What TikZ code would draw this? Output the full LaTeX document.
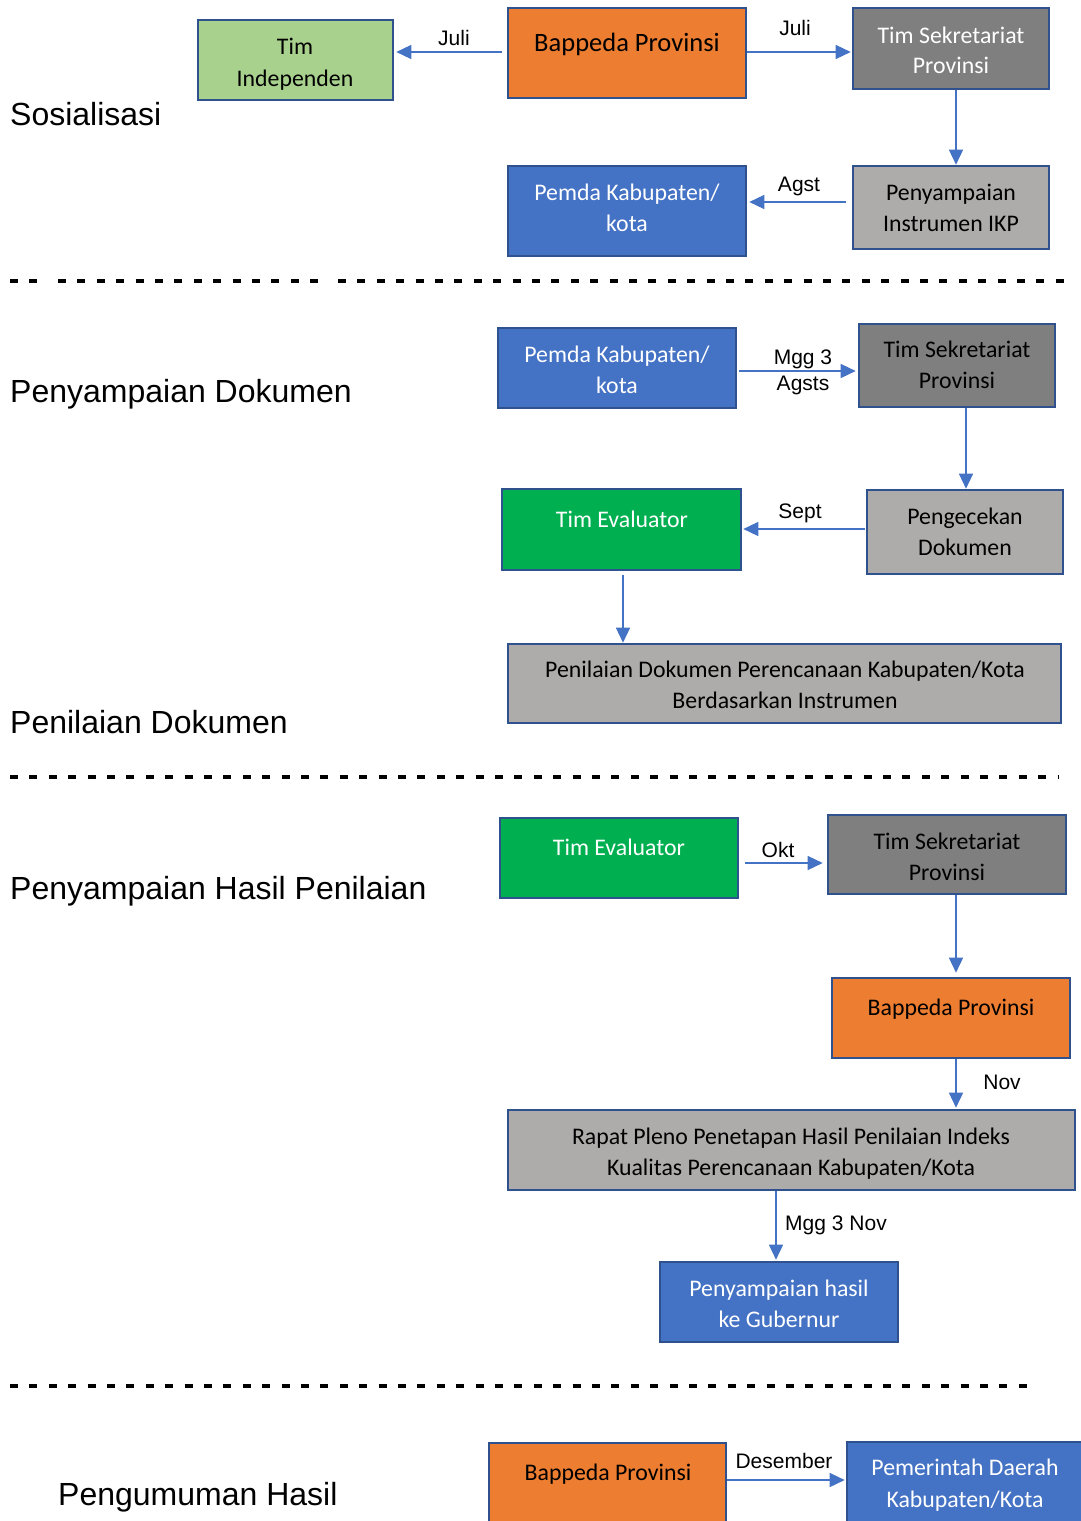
\documentclass[tikz,border=0pt]{standalone}
\usepackage{fontspec}
\newfontfamily\boxfont{Carlito}
\newfontfamily\labfont{Liberation Sans}
\usetikzlibrary{arrows.meta,fit}
\definecolor{cOrange}{HTML}{ED7D31}
\definecolor{cBlue}{HTML}{4472C4}
\definecolor{cBorder}{HTML}{2F528F}
\definecolor{cLGreen}{HTML}{A9D18E}
\definecolor{cGreen}{HTML}{00B050}
\definecolor{cDGray}{HTML}{7F7F7F}
\definecolor{cLGray}{HTML}{AEABAB}
\definecolor{cArrow}{HTML}{4472C4}
\tikzset{
  box/.style={draw=cBorder, line width=2.6pt, inner sep=0pt, rectangle},
  bt/.style={font=\boxfont\fontsize{23.8}{31}\selectfont, anchor=base, inner sep=0pt},
  lab/.style={font=\labfont\fontsize{21}{25}\selectfont, anchor=base, inner sep=0pt},
  sec/.style={font=\labfont\fontsize{32}{38}\selectfont, anchor=base west, inner sep=0pt},
  arr/.style={draw=cArrow, line width=1.4pt, -{Triangle[length=15pt,width=14pt]}},
  sepline/.style={line width=3.4pt, dash pattern=on 8pt off 11.4pt}
}
\begin{document}
\begin{tikzpicture}[x=1pt,y=-1pt]
\useasboundingbox (0,0) rectangle (1081,1521);
\clip (0,0) rectangle (1081,1521);

% ---------- section titles ----------
\node[sec] (s1) at (10,125) {Sosialisasi};
\node[sec] (s2) at (10,402) {Penyampaian Dokumen};
\node[sec] (s3) at (10,733) {Penilaian Dokumen};
\node[sec] (s4) at (10,899) {Penyampaian Hasil Penilaian};
\node[sec] (s5) at (58,1505) {Pengumuman Hasil};

% ---------- separators ----------
\draw[sepline] (10,281) -- (38,281);
\draw[sepline] (58,281) -- (320,281);
\draw[sepline] (338,281) -- (1068,281);
\draw[sepline] (10,777) -- (1058,777);
\draw[sepline] (10,1386) -- (1038,1386);

% ---------- section 1: Sosialisasi ----------
\node[box, fill=cLGreen, fit={(198,20) (393,100)}] (timind) {};
\node[bt] (timindA) at (295,54) {Tim};
\node[bt] (timindB) at (295,86) {Independen};

\node[box, fill=cOrange, fit={(508,8) (746,98)}] (bapA) {};
\node[bt, font=\boxfont\fontsize{26.5}{31}\selectfont] (bapAt) at (627,51) {Bappeda Provinsi};

\node[box, fill=cDGray, fit={(853,8) (1049,89)}] (tsA) {};
\node[bt, text=white] (tsAa) at (951,43) {Tim Sekretariat};
\node[bt, text=white] (tsAb) at (951,73) {Provinsi};

\node[box, fill=cLGray, fit={(853,166) (1049,249)}] (ikp) {};
\node[bt] (ikpa) at (951,200) {Penyampaian};
\node[bt] (ikpb) at (951,231) {Instrumen IKP};

\node[box, fill=cBlue, fit={(508,166) (746,256)}] (pemdaA) {};
\node[bt, text=white] (pemdaAa) at (627,200) {Pemda Kabupaten/};
\node[bt, text=white] (pemdaAb) at (627,231) {kota};

\draw[arr] ([xshift=-5pt]bapA.west |- 0,52) -- ([xshift=2pt]timind.east |- 0,52);
\node[lab] (l1) at (454,45) {Juli};
\draw[arr] (bapA.east |- 0,52) -- ([xshift=-1pt]tsA.west |- 0,52);
\node[lab] (l2) at (795,35) {Juli};
\draw[arr] (tsA.south -| 956,0) -- (ikp.north -| 956,0);
\draw[arr] ([xshift=-6pt]ikp.west |- 0,202) -- ([xshift=2pt]pemdaA.east |- 0,202);
\node[lab] (l3) at (799,191) {Agst};

% ---------- section 2 ----------
\node[box, fill=cBlue, fit={(498,328) (736,408)}] (pemdaB) {};
\node[bt, text=white] (pemdaBa) at (617,362) {Pemda Kabupaten/};
\node[bt, text=white] (pemdaBb) at (617,393) {kota};

\node[box, fill=cDGray, fit={(859,324) (1055,407)}] (tsB) {};
\node[bt] (tsBa) at (957,357) {Tim Sekretariat};
\node[bt] (tsBb) at (957,388) {Provinsi};

\node[box, fill=cLGray, fit={(867,490) (1063,574)}] (cek) {};
\node[bt] (ceka) at (965,524) {Pengecekan};
\node[bt] (cekb) at (965,555) {Dokumen};

\node[box, fill=cGreen, fit={(502,489) (741,570)}] (evB) {};
\node[bt, text=white] (evBt) at (622,527) {Tim Evaluator};

\node[box, fill=cLGray, fit={(508,644) (1061,723)}] (nilai) {};
\node[bt] (nilaia) at (785,677) {Penilaian Dokumen Perencanaan Kabupaten/Kota};
\node[bt] (nilaib) at (785,708) {Berdasarkan Instrumen};

\draw[arr] ([xshift=2pt]pemdaB.east |- 0,371) -- ([xshift=-2pt]tsB.west |- 0,371);
\node[lab] (l4) at (803,364) {Mgg 3};
\node[lab] (l5) at (803,390) {Agsts};
\draw[arr] (tsB.south -| 966,0) -- (cek.north -| 966,0);
\draw[arr] ([xshift=-1pt]cek.west |- 0,529) -- ([xshift=1pt]evB.east |- 0,529);
\node[lab] (l6) at (800,518) {Sept};
\draw[arr] ([yshift=-4pt]evB.south -| 623,0) -- (nilai.north -| 623,0);

% ---------- section 3 ----------
\node[box, fill=cGreen, fit={(500,818) (738,898)}] (evC) {};
\node[bt, text=white] (evCt) at (619,855) {Tim Evaluator};

\node[box, fill=cDGray, fit={(828,815) (1066,894)}] (tsC) {};
\node[bt] (tsCa) at (947,849) {Tim Sekretariat};
\node[bt] (tsCb) at (947,880) {Provinsi};

\node[box, fill=cOrange, fit={(832,978) (1070,1058)}] (bapC) {};
\node[bt] (bapCt) at (951,1015) {Bappeda Provinsi};

\node[box, fill=cLGray, fit={(508,1110) (1075,1190)}] (rapat) {};
\node[bt] (rapata) at (791,1144) {Rapat Pleno Penetapan Hasil Penilaian Indeks};
\node[bt] (rapatb) at (791,1175) {Kualitas Perencanaan Kabupaten/Kota};

\node[box, fill=cBlue, fit={(660,1262) (898,1342)}] (gub) {};
\node[bt, text=white] (guba) at (779,1296) {Penyampaian hasil};
\node[bt, text=white] (gubb) at (779,1327) {ke Gubernur};

\draw[arr] ([xshift=6pt]evC.east |- 0,863) -- ([xshift=-4pt]tsC.west |- 0,863);
\node[lab] (l7) at (778,857) {Okt};
\draw[arr] (tsC.south -| 956,0) -- ([yshift=4pt]bapC.north -| 956,0);
\draw[arr] (bapC.south -| 956,0) -- ([yshift=1pt]rapat.north -| 956,0);
\node[lab] (l8) at (1002,1089) {Nov};
\draw[arr] (rapat.south -| 776,0) -- ([yshift=1pt]gub.north -| 776,0);
\node[lab] (l9) at (836,1230) {Mgg 3 Nov};

% ---------- section 4 ----------
\node[box, fill=cOrange, fit={(489,1443) (726,1535)}] (bapD) {};
\node[bt] (bapDt) at (608,1480) {Bappeda Provinsi};

\node[box, fill=cBlue, fit={(847,1442) (1095,1535)}] (pemdaD) {};
\node[bt, text=white] (pemdaDa) at (965,1475) {Pemerintah Daerah};
\node[bt, text=white] (pemdaDb) at (965,1507) {Kabupaten/Kota};

\draw[arr] (bapD.east |- 0,1480) -- ([xshift=-1pt]pemdaD.west |- 0,1480);
\node[lab] (l10) at (784,1468) {Desember};
\end{tikzpicture}
\end{document}
